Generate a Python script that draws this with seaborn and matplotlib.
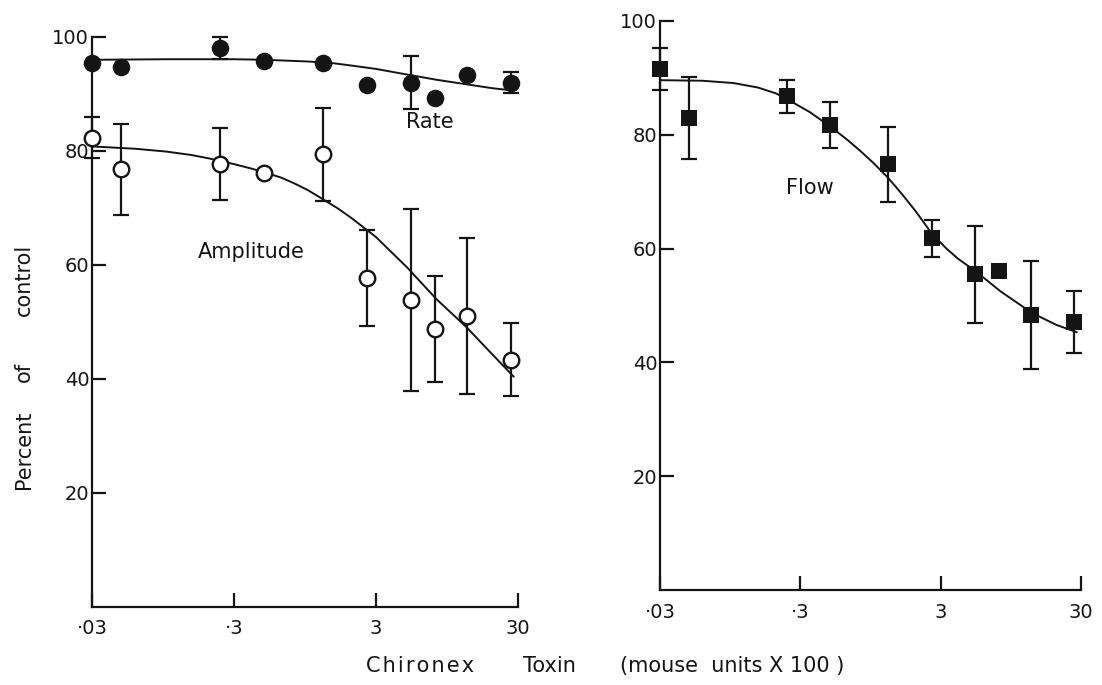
import numpy as np
import pandas as pd
import matplotlib
matplotlib.use("Agg")
import matplotlib.pyplot as plt
import seaborn as sns

# ---------------- data ----------------
dose = [0.03, 0.048, 0.24, 0.49, 1.27, 2.59, 5.3, 7.8, 13.2, 26.6]

rate = [95.4, 94.8, 98.1, 95.8, 95.4, 91.5, 92.0, 89.3, 93.3, 92.0]
rate_err = [0, 0, 1.9, 0, 0, 0, 4.6, 0, 0, 1.8]

amplitude = [82.3, 76.8, 77.7, 76.1, 79.4, 57.7, 53.9, 48.7, 51.1, 43.4]
amplitude_err = [3.6, 8.0, 6.3, 0, 8.1, 8.4, 16.0, 9.3, 13.7, 6.4]

flow = [91.5, 83.0, 86.8, 81.7, 74.8, 61.8, 55.5, 56.0, 48.3, 47.1]
flow_err = [3.7, 7.2, 2.9, 4.0, 6.6, 3.2, 8.5, 0, 9.5, 5.5]

# fitted curves
rate_curve_x = [0.03, 0.1, 0.3, 0.5, 1.0, 1.5, 2.0, 3.0, 5.0, 8.0, 13.0, 20.0, 28.0]
rate_curve_y = [96.0, 96.1, 96.1, 96.0, 95.7, 95.4, 95.0, 94.4, 93.4, 92.5, 91.7, 91.0, 90.6]

amp_curve_x = [0.03, 0.06, 0.1, 0.15, 0.2, 0.3, 0.4, 0.5, 0.65, 0.8, 1.0, 1.2, 1.6, 2.0, 3.0,
               5.0, 8.0, 13.0, 20.0, 28.0]
amp_curve_y = [80.8, 80.4, 79.9, 79.3, 78.7, 77.7, 76.9, 76.2, 75.3, 74.3, 73.1, 71.9, 70.0,
               68.3, 64.9, 59.5, 54.0, 49.1, 44.2, 40.4]

flow_curve_x = [0.03, 0.06, 0.1, 0.15, 0.2, 0.24, 0.35, 0.5, 0.65, 0.8, 1.0, 1.26, 1.6, 2.0,
                2.6, 3.3, 4.0, 5.4, 8.0, 13.4, 20.0, 28.0]
flow_curve_y = [89.6, 89.5, 89.1, 88.3, 87.3, 86.3, 84.0, 81.3, 79.1, 77.2, 75.0, 72.5, 69.5,
                66.5, 62.6, 60.0, 58.2, 55.9, 52.5, 48.7, 46.6, 45.3]

x_ticks = [0.03, 0.3, 3, 30]
x_tick_labels = ["\u00b703", "\u00b73", "3", "30"]
y_ticks = [20, 40, 60, 80, 100]
y_tick_labels = ["20", "40", "60", "80", "100"]

# ---------------- styling ----------------
sns.set_theme(style="white")
plt.rcParams["font.family"] = ["DejaVu Sans"]
INK = "#141414"

W, H = 1102, 685
fig = plt.figure(figsize=(W / 100, H / 100), dpi=100)
fig.patch.set_facecolor("white")


def px_axes(x0, x1, y_top, y_bot):
    return fig.add_axes([x0 / W, 1 - y_bot / H, (x1 - x0) / W, (y_bot - y_top) / H])


ax1 = px_axes(92, 518, 37, 607)
ax2 = px_axes(660, 1081, 21, 590)


def style_axes(ax):
    ax.set_xscale("log")
    ax.set_xlim(0.03, 30)
    ax.set_ylim(0, 100)
    for s in ["top", "right"]:
        ax.spines[s].set_visible(False)
    for s in ["left", "bottom"]:
        ax.spines[s].set_color(INK)
        ax.spines[s].set_linewidth(1.6)
    ax.set_xticks(x_ticks)
    ax.set_xticklabels(x_tick_labels)
    ax.minorticks_off()
    ax.set_yticks(y_ticks)
    ax.set_yticklabels(y_tick_labels)
    ax.tick_params(axis="y", which="major", left=True, direction="in", length=10,
                   width=1.6, color=INK, labelsize=14, labelcolor=INK, pad=2)
    ax.tick_params(axis="x", which="major", bottom=True, direction="in", length=10,
                   width=1.6, color=INK, labelsize=14, labelcolor=INK, pad=9)
    ax.set_xlabel("")
    ax.set_ylabel("")
    ax.set_facecolor("white")


def draw_err(ax, x, y, e):
    xs = [a for a, b in zip(x, e) if b > 0]
    ys = [a for a, b in zip(y, e) if b > 0]
    es = [b for b in e if b > 0]
    ax.errorbar(xs, ys, yerr=es, fmt="none", ecolor=INK, elinewidth=1.6,
                capsize=6, capthick=1.6, zorder=2, clip_on=False)


# ---------------- left panel ----------------
sns.lineplot(x=rate_curve_x, y=rate_curve_y, ax=ax1, color=INK, lw=1.4, zorder=1)
sns.lineplot(x=amp_curve_x, y=amp_curve_y, ax=ax1, color=INK, lw=1.4, zorder=1)
draw_err(ax1, dose, rate, rate_err)
draw_err(ax1, dose, amplitude, amplitude_err)
sns.scatterplot(x=dose, y=rate, ax=ax1, marker="o", s=160, color=INK,
                edgecolor=INK, linewidth=0, zorder=3, clip_on=False)
sns.scatterplot(x=dose, y=amplitude, ax=ax1, marker="o", s=125, color="white",
                edgecolor=INK, linewidth=1.7, zorder=3, clip_on=False)
style_axes(ax1)
ax1.text(7.2, 85.0, "Rate", fontsize=15, color=INK, ha="center", va="center")
ax1.text(0.40, 62.2, "Amplitude", fontsize=15, color=INK, ha="center", va="center")

# ---------------- right panel ----------------
sns.lineplot(x=flow_curve_x, y=flow_curve_y, ax=ax2, color=INK, lw=1.4, zorder=1)
draw_err(ax2, dose, flow, flow_err)
sns.scatterplot(x=dose, y=flow, ax=ax2, marker="s", s=135, color=INK,
                edgecolor=INK, linewidth=0, zorder=3, clip_on=False)
style_axes(ax2)
ax2.text(0.35, 70.6, "Flow", fontsize=15, color=INK, ha="center", va="center")

# ---------------- shared labels ----------------
fig.text(24 / W, 1 - 450 / H, "Percent", rotation=90, fontsize=15, color=INK,
         ha="center", va="center")
fig.text(24 / W, 1 - 372 / H, "of", rotation=90, fontsize=15, color=INK,
         ha="center", va="center")
fig.text(24 / W, 1 - 280 / H, "control", rotation=90, fontsize=15, color=INK,
         ha="center", va="center")

fig.text(420 / W, 1 - 666 / H, "C\u200ah\u200ai\u200ar\u200ao\u200an\u200ae\u200ax",
         fontsize=15, color=INK, ha="center", va="center")
fig.text(549 / W, 1 - 666 / H, "Toxin", fontsize=15, color=INK, ha="center", va="center")
fig.text(732 / W, 1 - 666 / H, "(mouse  units X 100 )", fontsize=15, color=INK,
         ha="center", va="center")

fig.savefig("out.png", dpi=100, facecolor="white")
